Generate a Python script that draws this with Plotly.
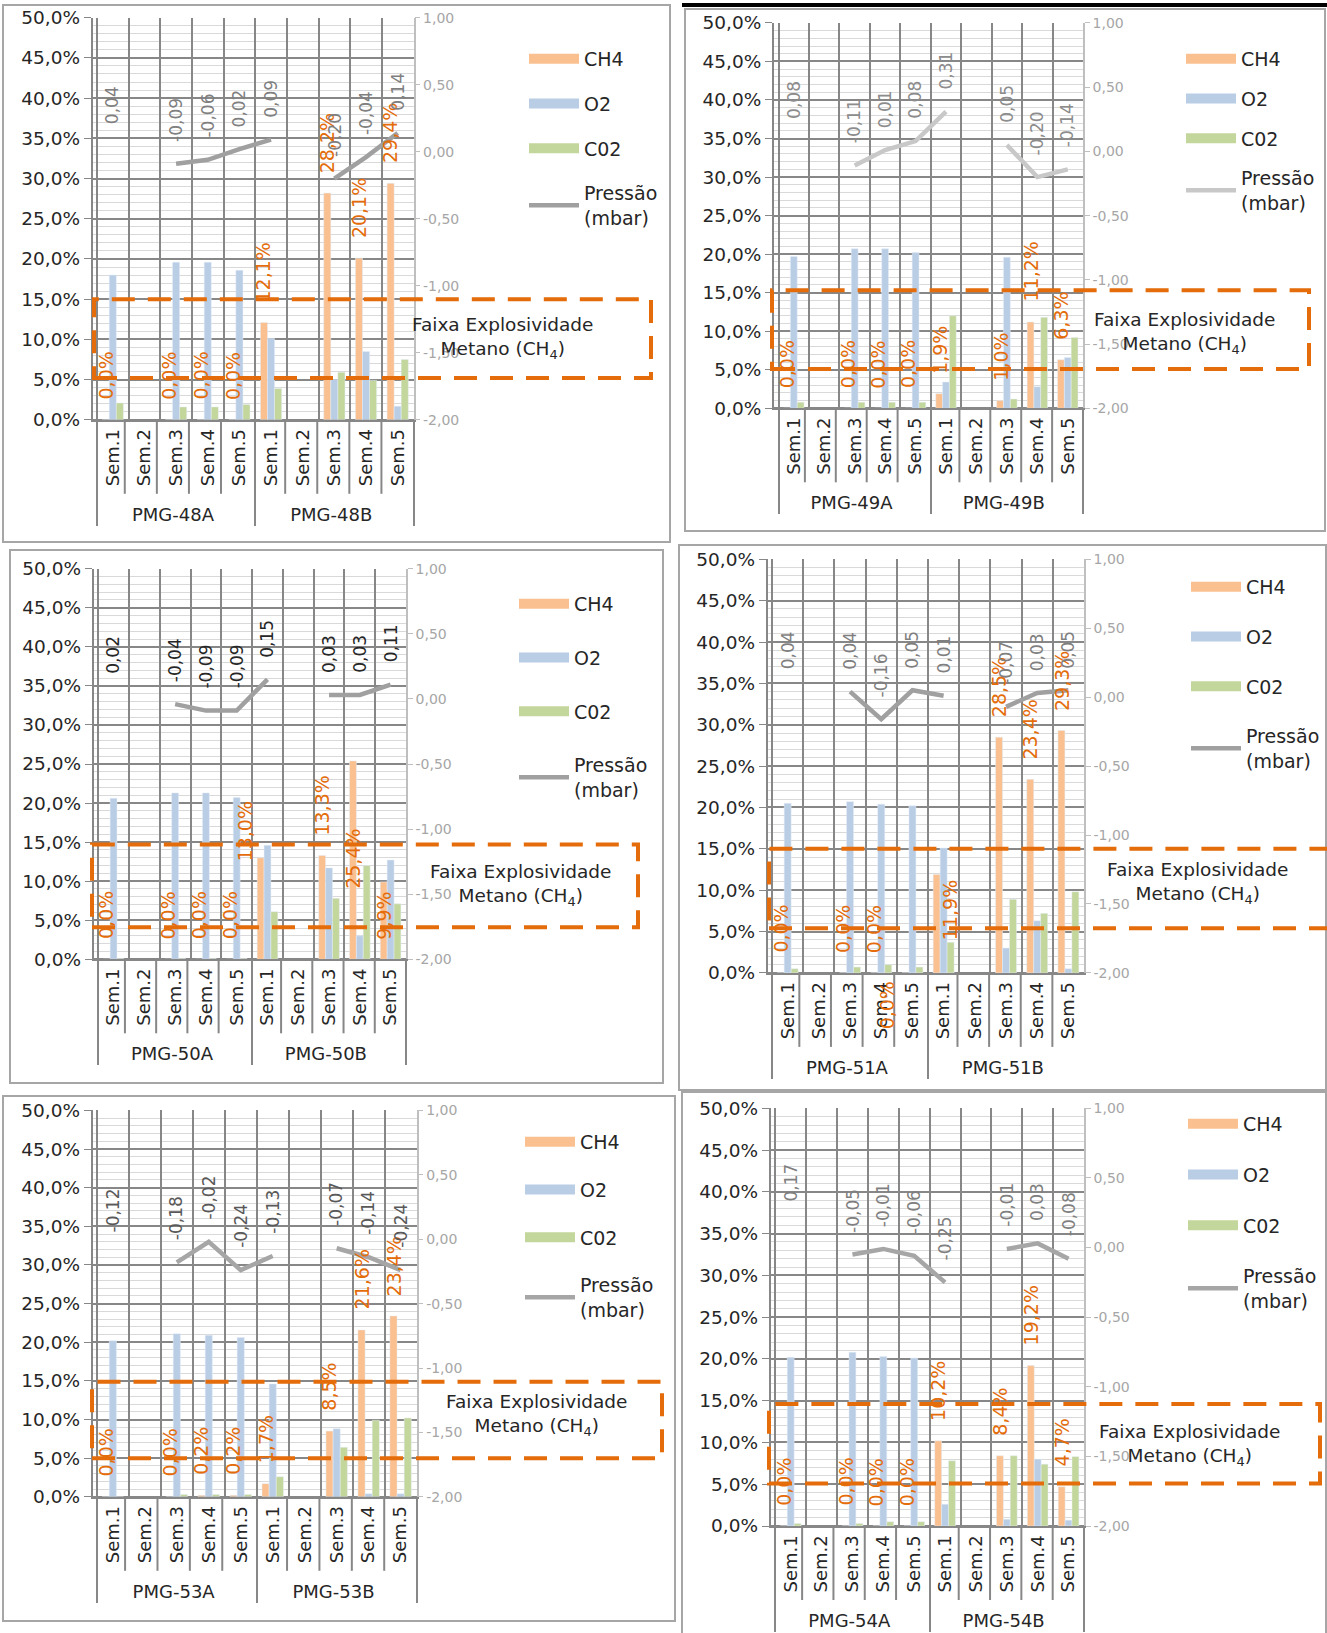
import plotly.graph_objects as go

W, H = 1327, 1633

semanas = ['Sem.1', 'Sem.2', 'Sem.3', 'Sem.4', 'Sem.5']

# PMG-48
pontos_48 = ['PMG-48A', 'PMG-48B']
ch4_48 = [0.0, None, 0.0, 0.0, 0.0, 12.1, None, 28.2, 20.1, 29.4]
o2_48 = [18.0, None, 19.6, 19.6, 18.6, 10.1, None, 5.0, 8.5, 1.7]
co2_48 = [2.1, None, 1.6, 1.6, 1.9, 3.9, None, 5.9, 4.9, 7.5]
pressao_48 = [0.04, None, -0.09, -0.06, 0.02, 0.09, None, -0.20, -0.04, 0.14]

# PMG-49
pontos_49 = ['PMG-49A', 'PMG-49B']
ch4_49 = [0.0, None, 0.0, 0.0, 0.0, 1.9, None, 1.0, 11.2, 6.3]
o2_49 = [19.7, None, 20.7, 20.7, 20.2, 3.4, None, 19.6, 2.8, 6.6]
co2_49 = [0.8, None, 0.8, 0.8, 0.8, 12.0, None, 1.2, 11.8, 9.2]
pressao_49 = [0.08, None, -0.11, 0.01, 0.08, 0.31, None, 0.05, -0.20, -0.14]

# PMG-50
pontos_50 = ['PMG-50A', 'PMG-50B']
ch4_50 = [0.0, None, 0.0, 0.0, 0.0, 13.0, None, 13.3, 25.4, 9.9]
o2_50 = [20.6, None, 21.3, 21.3, 20.7, 14.6, None, 11.7, 3.0, 12.7]
co2_50 = [0.1, None, 0.1, 0.1, 0.1, 6.1, None, 7.8, 12.0, 7.1]
pressao_50 = [0.02, None, -0.04, -0.09, -0.09, 0.15, None, 0.03, 0.03, 0.11]

# PMG-51
pontos_51 = ['PMG-51A', 'PMG-51B']
ch4_51 = [0.0, None, 0.0, 0.0, 0.0, 11.9, None, 28.5, 23.4, 29.3]
o2_51 = [20.5, None, 20.7, 20.4, 20.2, 15.1, None, 3.0, 6.3, 0.5]
co2_51 = [0.5, None, 0.7, 1.0, 0.7, 3.7, None, 8.9, 7.2, 9.8]
pressao_51 = [0.04, None, 0.04, -0.16, 0.05, 0.01, None, -0.07, 0.03, 0.05]

# PMG-53
pontos_53 = ['PMG-53A', 'PMG-53B']
ch4_53 = [0.0, None, 0.0, 0.2, 0.2, 1.7, None, 8.5, 21.6, 23.4]
o2_53 = [20.2, None, 21.1, 20.9, 20.6, 14.6, None, 8.8, 0.4, 0.4]
co2_53 = [0.0, None, 0.3, 0.3, 0.3, 2.6, None, 6.4, 9.9, 10.2]
pressao_53 = [-0.12, None, -0.18, -0.02, -0.24, -0.13, None, -0.07, -0.14, -0.24]

# PMG-54
pontos_54 = ['PMG-54A', 'PMG-54B']
ch4_54 = [0.0, None, 0.0, 0.0, 0.0, 10.2, None, 8.4, 19.2, 4.7]
o2_54 = [20.2, None, 20.8, 20.3, 20.1, 2.6, None, 0.8, 8.0, 0.7]
co2_54 = [0.3, None, 0.3, 0.5, 0.5, 7.8, None, 8.4, 7.4, 8.3]
pressao_54 = [0.17, None, -0.05, -0.01, -0.06, -0.25, None, -0.01, 0.03, -0.08]

# secondary axis ticks (mbar)
ticks_pressao = [-2.0, -1.5, -1.0, -0.5, 0.0, 0.5, 1.0]

dados = [
    (pontos_48, ch4_48, o2_48, co2_48, pressao_48),
    (pontos_49, ch4_49, o2_49, co2_49, pressao_49),
    (pontos_50, ch4_50, o2_50, co2_50, pressao_50),
    (pontos_51, ch4_51, o2_51, co2_51, pressao_51),
    (pontos_53, ch4_53, o2_53, co2_53, pressao_53),
    (pontos_54, ch4_54, o2_54, co2_54, pressao_54),
]

# layout of each panel in pixels (plot area, frame, legend, explosive band box, band text)
paineis = [
    dict(plot=(92.7, 17.7, 413.5, 419.8), box=(3, 5, 670, 542), leg=(528, 60, 45),
         fx=(94, 651), fy=(5.2, 15.0), ftxt=(503, 338), lcor='#a0a0a0', pcor='#7f7f7f'),
    dict(plot=(774, 22.9, 1083, 408.3), box=(685, 9, 1325, 531), leg=(1185, 60, 40),
         fx=(772, 1309), fy=(5.1, 15.3), ftxt=(1185, 333), lcor='#c8c8c8', pcor='#8c8c8c'),
    dict(plot=(93.7, 568.7, 406, 959.3), box=(10, 550, 663, 1083), leg=(518, 605, 54),
         fx=(92, 638), fy=(4.1, 14.7), ftxt=(521, 885), lcor='#a0a0a0', pcor='#262626'),
    dict(plot=(767.7, 559.3, 1084, 972.9), box=(679, 545, 1326, 1090), leg=(1190, 588, 50),
         fx=(769, 1335), fy=(5.4, 15.0), ftxt=(1198, 883), lcor='#a0a0a0', pcor='#7f7f7f'),
    dict(plot=(92.7, 1110.4, 416.6, 1496.8), box=(3, 1096, 675, 1621), leg=(524, 1143, 48),
         fx=(92, 662), fy=(5.0, 14.9), ftxt=(537, 1415), lcor='#a6a6a6', pcor='#595959'),
    dict(plot=(770.8, 1108.3, 1084, 1526), box=(682, 1092, 1326, 1640), leg=(1187, 1125, 51),
         fx=(769, 1320), fy=(5.1, 14.6), ftxt=(1190, 1445), lcor='#a6a6a6', pcor='#7f7f7f'),
]

# manually moved CH4 labels (panel, category): (dx, dy) px
desloc = {(2, 5): (-16, -24), (2, 8): (0, -148), (2, 9): (0, -78),
          (3, 4): (-19, -76), (3, 5): (14, -86)}

FONTE = 'DejaVu Sans'
LARANJA = '#E46C0A'
GRADE = '#878787'
BARGAP = 0.33
largura_barra = (1 - BARGAP) / 3
LINHA_CAT = 74  # height of the week label row, px

fig = go.Figure()
shapes = []
annotations = []


def ref(letra, n):
    return letra if n == 1 else f'{letra}{n}'


def chave(letra, n):
    return f'{letra}axis' if n == 1 else f'{letra}axis{n}'


def virgula(v, casas):
    return f'{v:.{casas}f}'.replace('.', ',')


for k, ((pontos, ch4, o2, co2, pressao), p) in enumerate(zip(dados, paineis)):
    xn, y1n, y2n = k + 1, 2 * k + 1, 2 * k + 2
    leg = 'legend' if k == 0 else f'legend{k + 1}'
    xcat = [[pontos[0]] * 5 + [pontos[1]] * 5, semanas * 2]
    vazio = [None] * len(xcat[1])

    for nome, vals, cor in [('CH4', ch4, '#FAC090'), ('O2', o2, '#B9CDE5'), ('C02', co2, '#C3D69B')]:
        fig.add_trace(go.Bar(x=xcat, y=vals, name=nome, marker_color=cor,
                             xaxis=ref('x', xn), yaxis=ref('y', y1n), showlegend=False))
        # legend key drawn as a wide flat block, like the spreadsheet legend
        fig.add_trace(go.Scatter(x=xcat, y=vazio, name=nome, mode='lines',
                                 line=dict(color=cor, width=10),
                                 xaxis=ref('x', xn), yaxis=ref('y', y1n),
                                 legend=leg, legendgroup=f'{k}{nome}'))
    fig.add_trace(go.Scatter(x=xcat, y=pressao, name='Pressão<br>(mbar)', mode='lines',
                             line=dict(color=p['lcor'], width=4.5),
                             xaxis=ref('x', xn), yaxis=ref('y', y2n),
                             legend=leg, legendgroup=f'{k}p'))

    x0, y0, x1, y1 = p['plot']
    fig.layout[chave('x', xn)] = dict(
        type='multicategory', domain=[x0 / W, x1 / W], anchor=ref('y', y1n),
        tickangle=-90, tickfont=dict(size=18, color='#262626', family=FONTE),
        showdividers=True, dividercolor=GRADE, dividerwidth=2,
        showgrid=True, gridcolor=GRADE, gridwidth=2, tickson='boundaries',
        showline=True, linecolor=GRADE, linewidth=2)
    fig.layout[chave('y', y1n)] = dict(
        domain=[1 - y1 / H, 1 - y0 / H], anchor=ref('x', xn), range=[0, 50], dtick=5,
        tickformat='.1f', ticksuffix='%', tickfont=dict(size=18.5, color='#262626', family=FONTE),
        showgrid=True, gridcolor=GRADE, gridwidth=2,
        minor=dict(dtick=1, showgrid=True, gridcolor='#d9d9d9', gridwidth=1),
        zeroline=True, zerolinecolor=GRADE, zerolinewidth=2,
        showline=True, linecolor=GRADE, linewidth=2,
        ticks='outside', ticklen=7, tickcolor=GRADE)
    fig.layout[chave('y', y2n)] = dict(
        overlaying=ref('y', y1n), side='right', anchor=ref('x', xn), range=[-2, 1],
        tickvals=ticks_pressao, ticktext=[virgula(v, 2) for v in ticks_pressao],
        tickfont=dict(size=14, color='#a6a6a6', family=FONTE),
        showgrid=False, zeroline=False, showline=True, linecolor='#bfbfbf', linewidth=1.5,
        ticks='outside', ticklen=5, tickcolor='#bfbfbf')

    lx, lcy, lgap = p['leg']
    fig.layout[leg] = dict(x=(lx - 4) / W, y=1 - (lcy - 20) / H, xanchor='left', yanchor='top',
                           font=dict(size=19, color='#262626', family=FONTE),
                           tracegroupgap=lgap - 28, itemwidth=50, bgcolor='rgba(0,0,0,0)')

    # frame of the panel
    bx0, by0, bx1, by1 = p['box']
    shapes.append(dict(type='rect', xref='paper', yref='paper', x0=bx0 / W, x1=bx1 / W,
                       y0=1 - by1 / H, y1=1 - by0 / H, line=dict(color='#a6a6a6', width=2)))
    # small dividers between weeks under the axis
    for j in range(9):
        if j == 4:
            continue
        shapes.append(dict(type='line', xref=f'{ref("x", xn)} domain', yref='paper',
                           x0=(j + 1) / 10, x1=(j + 1) / 10, y0=1 - y1 / H,
                           y1=1 - (y1 + LINHA_CAT) / H, line=dict(color=GRADE, width=2)))
    # explosive band
    fx0, fx1 = p['fx']
    fy0, fy1 = p['fy']
    shapes.append(dict(type='rect', xref='paper', yref=ref('y', y1n), x0=fx0 / W, x1=fx1 / W,
                       y0=fy0, y1=fy1, line=dict(color=LARANJA, width=4, dash='23px,13px')))
    tx, ty = p['ftxt']
    annotations.append(dict(xref='paper', yref='paper', x=tx / W, y=1 - ty / H,
                            text='Faixa Explosividade<br>Metano (CH<sub>4</sub>)', showarrow=False,
                            xanchor='center', yanchor='middle', align='center',
                            font=dict(size=18.5, color='#262626', family=FONTE)))

    # CH4 labels
    for i, v in enumerate(ch4):
        if v is None:
            continue
        dx, dy = desloc.get((k, i), (0, 0))
        annotations.append(dict(xref=ref('x', xn), yref=ref('y', y1n), x=i - largura_barra, y=v,
                                text=virgula(v, 1) + '%', showarrow=False, textangle=-90,
                                xanchor='center', yanchor='bottom', xshift=dx, yshift=18 + dy,
                                font=dict(size=19, color=LARANJA, family=FONTE)))
    # pressure labels
    for i, v in enumerate(pressao):
        if v is None:
            continue
        annotations.append(dict(xref=ref('x', xn), yref=ref('y', y2n), x=i, y=v,
                                text=virgula(v, 2), showarrow=False, textangle=-90,
                                xanchor='center', yanchor='bottom', yshift=20,
                                font=dict(size=17, color=p['pcor'], family=FONTE)))

shapes.append(dict(type='line', xref='paper', yref='paper', x0=682 / W, x1=1,
                   y0=1 - 5 / H, y1=1 - 5 / H, line=dict(color='black', width=4)))

fig.update_layout(width=W, height=H, margin=dict(l=0, r=0, t=0, b=0, autoexpand=False),
                  barmode='group', bargap=BARGAP, bargroupgap=0,
                  separators=',.', plot_bgcolor='white', paper_bgcolor='white',
                  font=dict(family=FONTE, color='#262626'),
                  shapes=shapes, annotations=annotations)

# page margin off so the figure sits at the top-left corner of the window
fig.write_html('out.html', config={'displayModeBar': False},
               post_script="document.body.style.margin='0';")
